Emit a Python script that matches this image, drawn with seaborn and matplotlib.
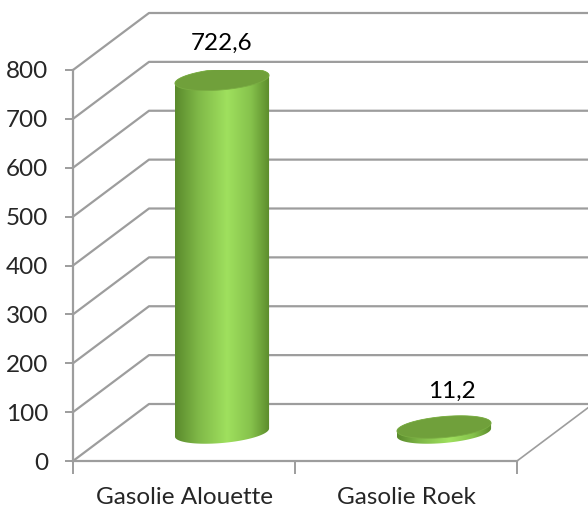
import numpy as np
import pandas as pd
import matplotlib
matplotlib.use("Agg")
import matplotlib.pyplot as plt
import seaborn as sns
from matplotlib.patches import Polygon
from matplotlib.colors import LinearSegmentedColormap

# Data
categories = ["Gasolie Alouette", "Gasolie Roek"]
values = [722.6, 11.2]
value_labels = ["722,6", "11,2"]
y_ticks = [0, 100, 200, 300, 400, 500, 600, 700, 800]

sns.set_style("white")
plt.rcParams['font.family'] = ['Lato', 'DejaVu Sans']
fs = 17.5

fig = plt.figure(figsize=(5.88, 5.08), dpi=100)
ax = fig.add_axes([73 / 588, 47 / 508, 444 / 588, 391 / 508])

# depth of the fake 3d box (data units)
depth_x = 76 / 222
depth_y = 57 / (391 / 800)
grid_col = "#9d9d9d"

# cylinders: seaborn bars, shifted half way into the box
df = pd.DataFrame({"pos": [i + depth_x / 2 for i in range(len(categories))],
                   "val": values})
sns.barplot(data=df, x="pos", y="val", native_scale=True, width=0.424,
            color="#8cc84b", ax=ax)

ax.set_xlim(-0.5, 1.5)
ax.set_ylim(0, 800)
ax.set_xlabel("")
ax.set_ylabel("")

# back wall / floor lines
for v in y_ticks:
    ax.plot([-0.5, -0.5 + depth_x, 1.5 + depth_x + 0.1], [v, v + depth_y, v + depth_y],
            color=grid_col, lw=1.6, clip_on=False, zorder=1)
ax.plot([1.5, 1.5 + depth_x], [0, depth_y], color=grid_col, lw=1.2, clip_on=False, zorder=1)

cmap = LinearSegmentedColormap.from_list(
    "cyl", [(0, "#5a8a2c"), (0.25, "#80b948"), (0.55, "#9fe05e"), (0.8, "#86c24c"), (1, "#5b8b2b")])
grad = np.linspace(0, 1, 256).reshape(1, -1)

b = 21.5   # ellipse half height
s = 8.2    # tilt
t = np.linspace(0, 2 * np.pi, 300)
label_dx = [0, 6]

for i, p in enumerate(list(ax.patches)):
    x0, w, h = p.get_x(), p.get_width(), p.get_height()
    p.set_visible(False)
    cx, a = x0 + w / 2, w / 2
    base = depth_y / 2
    top = base + h

    tb = np.linspace(np.pi, 2 * np.pi, 150)
    tt = np.linspace(0, np.pi, 150)
    bx = cx + a * np.cos(tb)
    by = base + b * np.sin(tb) + s * np.cos(tb)
    tx = cx + a * np.cos(tt)
    ty = top + b * np.sin(tt) + s * np.cos(tt)
    body = Polygon(np.column_stack([np.r_[bx, tx], np.r_[by, ty]]), closed=True,
                   facecolor="none", edgecolor="none", transform=ax.transData)
    ax.add_patch(body)
    im = ax.imshow(grad, cmap=cmap, aspect="auto", zorder=3,
                   extent=[cx - a, cx + a, base - b - s, top + b + s])
    im.set_clip_path(body)

    ex = cx + a * np.cos(t)
    ey = top + b * np.sin(t) + s * np.cos(t)
    ax.add_patch(Polygon(np.column_stack([ex, ey]), closed=True, facecolor="#70a03b",
                         edgecolor="#7aad43", lw=0.6, zorder=4))

    ax.annotate(value_labels[i], (cx, top), xytext=(label_dx[i], 26),
                textcoords="offset points", ha="center", va="center",
                fontsize=fs, color="black", zorder=5)

ax.set_xlim(-0.5, 1.5)
ax.set_ylim(0, 800)

# axes styling
for side in ["top", "right"]:
    ax.spines[side].set_visible(False)
for side in ["left", "bottom"]:
    ax.spines[side].set_color(grid_col)
    ax.spines[side].set_linewidth(1.6)

ax.set_yticks(y_ticks)
ax.set_yticklabels([str(v) for v in y_ticks])
ax.set_xticks([-0.5, 0.5, 1.5])
ax.set_xticklabels(["", "", ""])
ax.set_xticks([0, 1], minor=True)
ax.set_xticklabels(categories, minor=True)
ax.tick_params(axis="y", length=6, width=1.4, color=grid_col, labelsize=fs, pad=12, left=True)
ax.tick_params(axis="x", which="major", length=9, width=1.4, color=grid_col, bottom=True)
ax.tick_params(axis="x", which="minor", length=0, labelsize=fs, pad=19)

fig.savefig("out.png", dpi=100)
